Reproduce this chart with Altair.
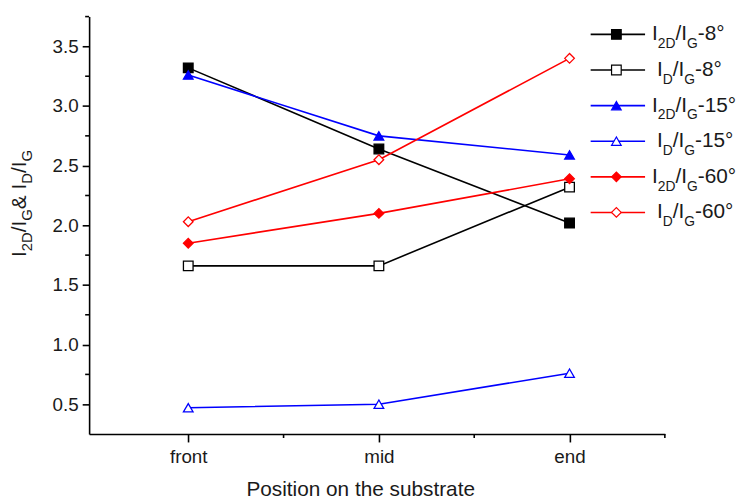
import altair as alt
import pandas as pd

# ---- data ----
positions = ["front", "mid", "end"]
series = ["I2D/IG-8°", "ID/IG-8°", "I2D/IG-15°", "ID/IG-15°", "I2D/IG-60°", "ID/IG-60°"]
i2d_8 = [3.32, 2.64, 2.02]
id_8 = [1.66, 1.66, 2.32]
i2d_15 = [3.26, 2.75, 2.59]
id_15 = [0.47, 0.50, 0.76]
i2d_60 = [1.85, 2.10, 2.39]
id_60 = [2.03, 2.55, 3.40]
all_values = [i2d_8, id_8, i2d_15, id_15, i2d_60, id_60]

# axis ticks
x_major = [1, 2, 3]
x_minor = [1.5, 2.5, 3.5]
y_major = [0.5, 1.0, 1.5, 2.0, 2.5, 3.0, 3.5]
y_minor = [0.75, 1.25, 1.75, 2.25, 2.75, 3.25, 3.75]

# ---- styles ----
colors = ["#000000", "#000000", "#0000ff", "#0000ff", "#ff0000", "#ff0000"]
fills = ["#000000", "#ffffff", "#0000ff", "#ffffff", "#ff0000", "#ffffff"]
shapes = ["square", "square", "triangle-up", "triangle-up", "diamond", "diamond"]
sizes = [95, 95, 130, 130, 150, 150]
leg_sizes = [64, 64, 90, 90, 100, 100]
FONT = "Liberation Sans"
TXT = "#1a1a1a"

W, H = 582, 422
X0, X1 = 0.48, 3.5
Y0, Y1 = 0.25, 3.75

def xd(px):  # layout helper: pixel offset from plot left -> x data units
    return X0 + px * (X1 - X0) / W

def yd(py):  # layout helper: pixel offset from plot top -> y data units
    return Y1 - py * (Y1 - Y0) / H

rows = []
for s, vals in zip(series, all_values):
    for i, v in enumerate(vals):
        rows.append({"series": s, "sk": s, "pos": i + 1, "value": v})
df = pd.DataFrame(rows)

label_expr = " : ".join(
    f"datum.value === {i + 1} ? '{p}'" for i, p in enumerate(positions)
) + " : ''"

xaxis = alt.Axis(
    values=x_major, labelExpr=label_expr, tickSize=8,
    grid=False, domainColor="#000", domainWidth=1.6, tickColor="#000", tickWidth=1.6,
    labelFont=FONT, labelFontSize=19, labelColor=TXT, labelPadding=6,
    title="Position on the substrate", titleFont=FONT, titleFontSize=21,
    titleFontWeight="normal", titleColor=TXT, titlePadding=12, titleX=274,
)
yaxis = alt.Axis(
    values=y_major, format=".1f", tickSize=7,
    grid=False, domainColor="#000", domainWidth=1.6, tickColor="#000", tickWidth=1.6,
    labelFont=FONT, labelFontSize=19, labelColor=TXT, labelPadding=4, title=None,
)

xs = alt.Scale(domain=[X0, X1], nice=False, zero=False)
ys = alt.Scale(domain=[Y0, Y1], nice=False, zero=False)
col_scale = alt.Scale(domain=series, range=colors)
fill_scale = alt.Scale(domain=series, range=fills)
shape_scale = alt.Scale(domain=series, range=shapes)
size_scale = alt.Scale(domain=series + ["leg:" + s for s in series], range=sizes + leg_sizes)

def X(f):
    return alt.X(f, type="quantitative", scale=xs, axis=xaxis)

def Y(f):
    return alt.Y(f, type="quantitative", scale=ys, axis=yaxis)

lines = alt.Chart(df).mark_line(strokeWidth=1.6).encode(
    x=X("pos"), y=Y("value"),
    color=alt.Color("series:N", scale=col_scale, legend=None),
)
points = alt.Chart(df).mark_point(filled=True, opacity=1, strokeWidth=1.3).encode(
    x=X("pos"), y=Y("value"),
    fill=alt.Fill("series:N", scale=fill_scale, legend=None),
    stroke=alt.Stroke("series:N", scale=col_scale, legend=None),
    shape=alt.Shape("series:N", scale=shape_scale, legend=None),
    size=alt.Size("sk:N", scale=size_scale, legend=None),
)

# ---- minor ticks (shorter than the axis' major ticks) ----
xminor = alt.Chart(pd.DataFrame({"mx": x_minor})).mark_rule(color="#000", strokeWidth=1.6).encode(
    x=X("mx"), y=alt.value(H), y2=alt.value(H + 4)
)
yminor = alt.Chart(pd.DataFrame({"my": y_minor})).mark_rule(color="#000", strokeWidth=1.6).encode(
    y=Y("my"), x=alt.value(-4), x2=alt.value(0)
)

# ---- text metrics (Arial / Liberation Sans) ----
WIDTHS = {"I": 278, "/": 278, "D": 722, "G": 778, "2": 556, "-": 333, "°": 400,
          "&": 667, " ": 278}
def tw(t, fs):
    return sum(WIDTHS.get(c, 556) for c in t) * fs / 1000.0

# ---- custom legend (placed through the chart's own scales) ----
leg_rows = []
for i, s in enumerate(series):
    py = 18 + 36 * i
    leg_rows.append({"series": s, "sk": "leg:" + s, "ly": yd(py),
                     "lx1": xd(507), "lx2": xd(562), "mx": xd(533)})
leg_df = pd.DataFrame(leg_rows)

leg_lines = alt.Chart(leg_df).mark_rule(strokeWidth=1.6).encode(
    x=X("lx1"), x2=alt.X2("lx2"), y=Y("ly"),
    color=alt.Color("series:N", scale=col_scale, legend=None),
)
leg_pts = alt.Chart(leg_df).mark_point(filled=True, opacity=1, strokeWidth=1.2).encode(
    x=X("mx"), y=Y("ly"),
    fill=alt.Fill("series:N", scale=fill_scale, legend=None),
    stroke=alt.Stroke("series:N", scale=col_scale, legend=None),
    shape=alt.Shape("series:N", scale=shape_scale, legend=None),
    size=alt.Size("sk:N", scale=size_scale, legend=None),
)

LFS, LSFS = 21, 14
seg_rows = []
for i, s in enumerate(series):
    py = 18 + 36 * i
    sub1 = "2D" if s.startswith("I2D") else "D"
    rest = s.split("-", 1)[1]
    segs = [("I", 0), (sub1, 1), ("/I", 0), ("G", 1), ("-" + rest, 0)]
    x = 569 if sub1 == "2D" else 574
    for t, sub in segs:
        seg_rows.append({"t": t, "sub": sub, "tx": xd(x), "ty": yd(py)})
        x += tw(t, LSFS if sub else LFS)
seg_df = pd.DataFrame(seg_rows)

leg_main = alt.Chart(seg_df).transform_filter("datum.sub == 0").mark_text(
    align="left", baseline="alphabetic", dy=6, font=FONT, fontSize=LFS, color=TXT
).encode(x=X("tx"), y=Y("ty"), text="t:N")
leg_sub = alt.Chart(seg_df).transform_filter("datum.sub == 1").mark_text(
    align="left", baseline="alphabetic", dy=14, font=FONT, fontSize=LSFS, color=TXT
).encode(x=X("tx"), y=Y("ty"), text="t:N")

# ---- rotated y-axis title with subscripts ----
YFS, YSFS = 21, 15
ysegs = [("I", 0), ("2D", 1), ("/I", 0), ("G", 1), ("& ", 0), ("I", 0), ("D", 1), ("/I", 0), ("G", 1)]
yrows = []
py = 243
for t, sub in ysegs:
    yrows.append({"t": t, "sub": sub, "ty": yd(py), "tx": xd(-58 if sub else -64)})
    py -= tw(t, YSFS if sub else YFS)
yt_df = pd.DataFrame(yrows)

yt_main = alt.Chart(yt_df).transform_filter("datum.sub == 0").mark_text(
    align="left", baseline="alphabetic", angle=270, font=FONT, fontSize=YFS, color=TXT
).encode(x=X("tx"), y=Y("ty"), text="t:N")
yt_sub = alt.Chart(yt_df).transform_filter("datum.sub == 1").mark_text(
    align="left", baseline="alphabetic", angle=270, font=FONT, fontSize=YSFS, color=TXT
).encode(x=X("tx"), y=Y("ty"), text="t:N")

chart = alt.layer(
    lines, points, xminor, yminor, leg_lines, leg_pts, leg_main, leg_sub, yt_main, yt_sub
).properties(
    width=W, height=H, autosize="none", background="white",
    padding={"left": 82, "top": 6, "right": 79, "bottom": 64},
).configure_view(
    stroke=None, strokeWidth=0
)

chart.save("out.html", embed_options={"renderer": "svg", "actions": False})
